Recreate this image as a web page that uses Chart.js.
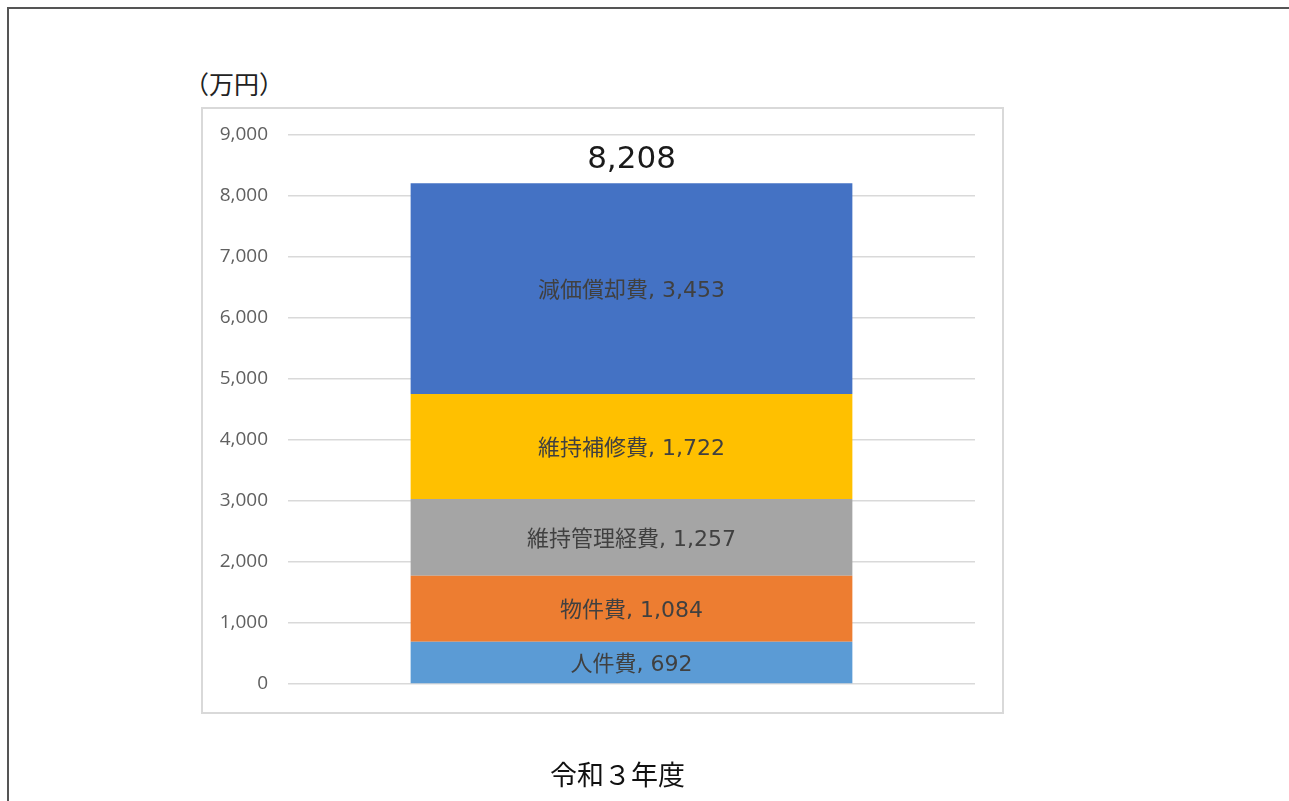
<!DOCTYPE html>
<html lang="ja">
<head>
<meta charset="utf-8">
<title>令和３年度 費用内訳</title>
<script src="https://cdn.jsdelivr.net/npm/chart.js@4/dist/chart.umd.min.js"></script>
<style>
  html, body { margin: 0; padding: 0; background: #fff; overflow: hidden; }
  #page { position: relative; width: 1289px; height: 801px; }
  .frame { position: absolute; left: 7px; top: 7px; width: 1400px; height: 900px; border: 2px solid #555; }
  .plot-box { position: absolute; left: 201px; top: 107px; width: 799px; height: 603px; border: 2px solid #d9d9d9; }
  .unit { position: absolute; left: 184px; top: 71px; font: 25px/1 "Noto Sans CJK JP", sans-serif; color: #222; }
  canvas { position: absolute; left: 0; top: 0; }
</style>
</head>
<body>
<div id="page">
  <div class="frame"></div>
  <div class="plot-box"></div>
  <div class="unit">（万円）</div>
  <canvas id="costChart" width="1289" height="801"></canvas>
</div>
<script>
// cost breakdown, stacked bottom to top (万円)
const years = ['令和３年度'];
const itemNames = ['人件費', '物件費', '維持管理経費', '維持補修費', '減価償却費'];
const itemValues = [692, 1084, 1257, 1722, 3453];
const itemColors = ['#5b9bd5', '#ed7d31', '#a5a5a5', '#ffc000', '#4472c4'];
const totalValue = 8208;

const JP_FONT = '"Noto Sans CJK JP", sans-serif';
const LABEL_FONT = '"DejaVu Sans", "Noto Sans CJK JP", sans-serif';

/**
 * draws "name, value" in the middle of each segment and the total above the stack
 */
const stackLabels = {
    id: 'stackLabels',
    afterDatasetsDraw(chart) {
        const ctx = chart.ctx;
        ctx.save();
        ctx.textAlign = 'center';
        ctx.textBaseline = 'middle';
        ctx.font = '22px ' + LABEL_FONT;
        ctx.fillStyle = '#404040';

        let topY = null;
        let centerX = null;
        chart.data.datasets.forEach((ds, i) => {
            const bar = chart.getDatasetMeta(i).data[0];
            const midY = (bar.y + bar.base) / 2;
            // CJK glyphs sit a little high on the middle baseline
            ctx.fillText(`${ds.label}, ${ds.data[0].toLocaleString('en-US')}`, bar.x, midY + 3);
            if (topY === null || bar.y < topY) topY = bar.y;
            centerX = bar.x;
        });

        ctx.font = '31px "DejaVu Sans", sans-serif';
        ctx.fillStyle = '#1a1a1a';
        ctx.fillText(totalValue.toLocaleString('en-US'), centerX, topY - 23);
        ctx.restore();
    }
};

new Chart(document.getElementById('costChart'), {
    type: 'bar',
    data: {
        labels: years,
        datasets: itemNames.map((name, i) => ({
            label: name,
            data: [itemValues[i]],
            backgroundColor: itemColors[i],
            borderWidth: 0,
            barPercentage: 0.643,
            categoryPercentage: 1,
        })),
    },
    options: {
        responsive: false,
        animation: false,
        layout: {
            padding: { left: 200, top: 135, right: 314, bottom: 0 },
        },
        plugins: {
            legend: { display: false },
            tooltip: { enabled: false },
        },
        scales: {
            x: {
                stacked: true,
                grid: { display: false },
                border: { display: false },
                ticks: {
                    padding: 67,
                    labelOffset: -14,
                    color: '#111',
                    font: { family: JP_FONT, size: 27 },
                },
                afterFit(scale) { scale.height = 117; },
            },
            y: {
                stacked: true,
                min: 0,
                max: 9000,
                border: { display: false },
                grid: { color: '#d9d9d9', lineWidth: 1.5, drawTicks: false },
                ticks: {
                    stepSize: 1000,
                    padding: 20,
                    color: '#606060',
                    font: { family: '"Open Sans", sans-serif', size: 19 },
                    callback: (v) => v.toLocaleString('en-US'),
                },
                afterFit(scale) { scale.width = 88; },
            },
        },
    },
    plugins: [stackLabels],
});
</script>
</body>
</html>
